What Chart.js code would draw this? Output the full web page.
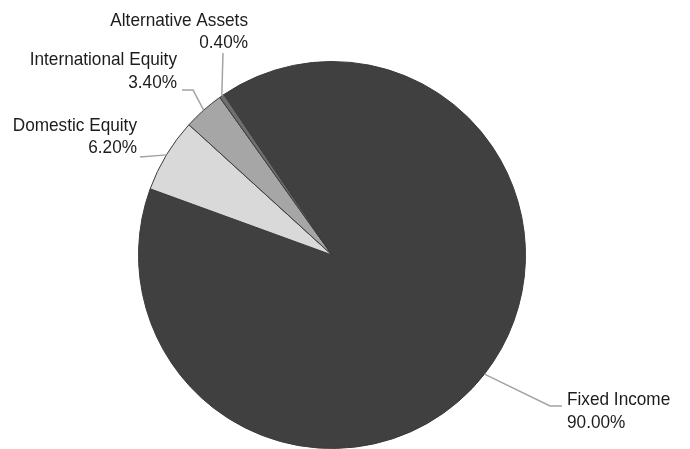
<!DOCTYPE html>
<html>
<head>
<meta charset="utf-8">
<script src="https://cdn.jsdelivr.net/npm/chart.js@4"></script>
<style>
  html, body { margin: 0; padding: 0; background: #fff; }
  #wrap { width: 690px; height: 449px; }
</style>
</head>
<body>
<div id="wrap"><canvas id="chart" width="690" height="449"></canvas></div>
<script>
// Asset allocation data
const categories = ["Fixed Income", "Domestic Equity", "International Equity", "Alternative Assets"];
const allocation = [90.0, 6.2, 3.4, 0.4];
const sliceColors = ["#404040", "#d9d9d9", "#a6a6a6", "#6e6e6e"];

// where each label sits and how its leader line bends (canvas px)
const labelLayout = [
  { path: [[550, 406], [562, 406]], x: 567, y: [405, 428], align: "left" },
  { path: [[140, 157]], x: 137, y: [131, 153], align: "right" },
  { path: [[193, 90], [182, 90]], x: 177, y: [65, 88], align: "right" },
  { path: [[223, 53]], x: 248, y: [26, 48], align: "right" },
];

// draws the data labels with leader lines, Excel style
const leaderLabels = {
  id: "leaderLabels",
  afterDatasetsDraw(chart) {
    const ctx = chart.ctx;
    const meta = chart.getDatasetMeta(0);
    meta.data.forEach((arc, i) => {
      const layout = labelLayout[i];
      const mid = (arc.startAngle + arc.endAngle) / 2;
      const sx = arc.x + Math.cos(mid) * arc.outerRadius;
      const sy = arc.y + Math.sin(mid) * arc.outerRadius;

      ctx.save();
      ctx.strokeStyle = "#a3a3a3";
      ctx.lineWidth = 1.5;
      ctx.beginPath();
      ctx.moveTo(sx, sy);
      layout.path.forEach(p => ctx.lineTo(p[0], p[1]));
      ctx.stroke();
      ctx.restore();

      const lines = [categories[i], allocation[i].toFixed(2) + "%"];
      ctx.save();
      ctx.fillStyle = "#1c1c1c";
      ctx.font = "18.5px 'Liberation Sans', Arial, sans-serif";
      ctx.textBaseline = "alphabetic";
      ctx.textAlign = layout.align;
      lines.forEach((txt, k) => {
        ctx.save();
        ctx.translate(layout.x, layout.y[k]);
        ctx.scale(0.93, 1);
        ctx.fillText(txt, 0, 0);
        ctx.restore();
      });
      ctx.restore();
    });
  }
};

new Chart(document.getElementById("chart"), {
  type: "pie",
  data: {
    labels: categories,
    datasets: [{
      data: allocation,
      backgroundColor: sliceColors,
      borderColor: "#3a3a3a",
      borderWidth: 1,
    }],
  },
  options: {
    responsive: false,
    animation: false,
    rotation: -34,
    layout: { padding: { top: 61, bottom: 0, left: 0, right: 26 } },
    plugins: {
      legend: { display: false },
      tooltip: { enabled: false },
    },
  },
  plugins: [leaderLabels],
});
</script>
</body>
</html>
